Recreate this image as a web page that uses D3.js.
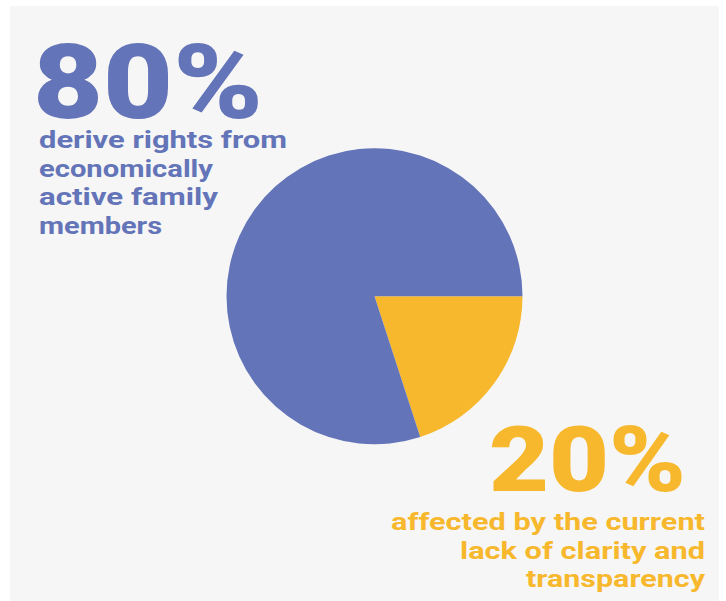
<!DOCTYPE html>
<html><head><meta charset="utf-8">
<script src="https://cdn.jsdelivr.net/npm/d3@7"></script>
<style>html,body{margin:0;padding:0;background:#fff;}svg{display:block;}</style>
</head><body>
<script>
// Data
const categories = ["affected by the current lack of clarity and transparency", "derive rights from economically active family members"];
const values = [20, 80];
const colors = ["#f7b82d", "#6374b8"];
const bigLabels = ["20%", "80%"];
const blueLines = ["derive rights from", "economically", "active family", "members"];
const yellowLines = ["affected by the current", "lack of clarity and", "transparency"];

const W = 726, H = 601;
const svg = d3.select("body").append("svg").attr("width", W).attr("height", H);
svg.append("rect").attr("x", 10).attr("y", 6).attr("width", 709).attr("height", 595).attr("fill", "#f6f6f6");

const cx = 374.5, cy = 296.3, r = 148;
const pie = d3.pie().sort(null).value(d => d).startAngle(Math.PI / 2).endAngle(Math.PI / 2 + 2 * Math.PI);
const arc = d3.arc().innerRadius(0).outerRadius(r);
svg.append("g").attr("transform", `translate(${cx},${cy})`)
  .selectAll("path").data(pie(values)).join("path")
  .attr("d", arc).attr("fill", (d, i) => colors[i]);

const font = "Roboto, sans-serif";
// Blue text
svg.append("text").attr("x", 33).attr("y", 118).attr("fill", colors[1])
  .attr("font-family", font).attr("font-weight", 900).attr("font-size", 103)
  .attr("textLength", 230).attr("lengthAdjust", "spacingAndGlyphs").text(bigLabels[1]);
const blueW = [248, 174, 179, 123];
const blueY = [148, 177, 205, 234];
svg.append("g").selectAll("text").data(blueLines).join("text")
  .attr("x", 39).attr("y", (d, i) => blueY[i]).attr("fill", colors[1])
  .attr("font-family", font).attr("font-weight", 700).attr("font-size", 23.5)
  .attr("textLength", (d, i) => blueW[i]).attr("lengthAdjust", "spacingAndGlyphs").text(d => d);

// Yellow text
svg.append("text").attr("x", 489).attr("y", 491).attr("fill", colors[0])
  .attr("font-family", font).attr("font-weight", 900).attr("font-size", 90)
  .attr("textLength", 197).attr("lengthAdjust", "spacingAndGlyphs").text(bigLabels[0]);
const yW = [314, 245, 179];
const yY = [530, 559, 587];
svg.append("g").selectAll("text").data(yellowLines).join("text")
  .attr("x", (d, i) => 705 - yW[i]).attr("y", (d, i) => yY[i]).attr("fill", colors[0])
  .attr("font-family", font).attr("font-weight", 700).attr("font-size", 23.5)
  .attr("textLength", (d, i) => yW[i]).attr("lengthAdjust", "spacingAndGlyphs").text(d => d);
</script>
</body></html>
